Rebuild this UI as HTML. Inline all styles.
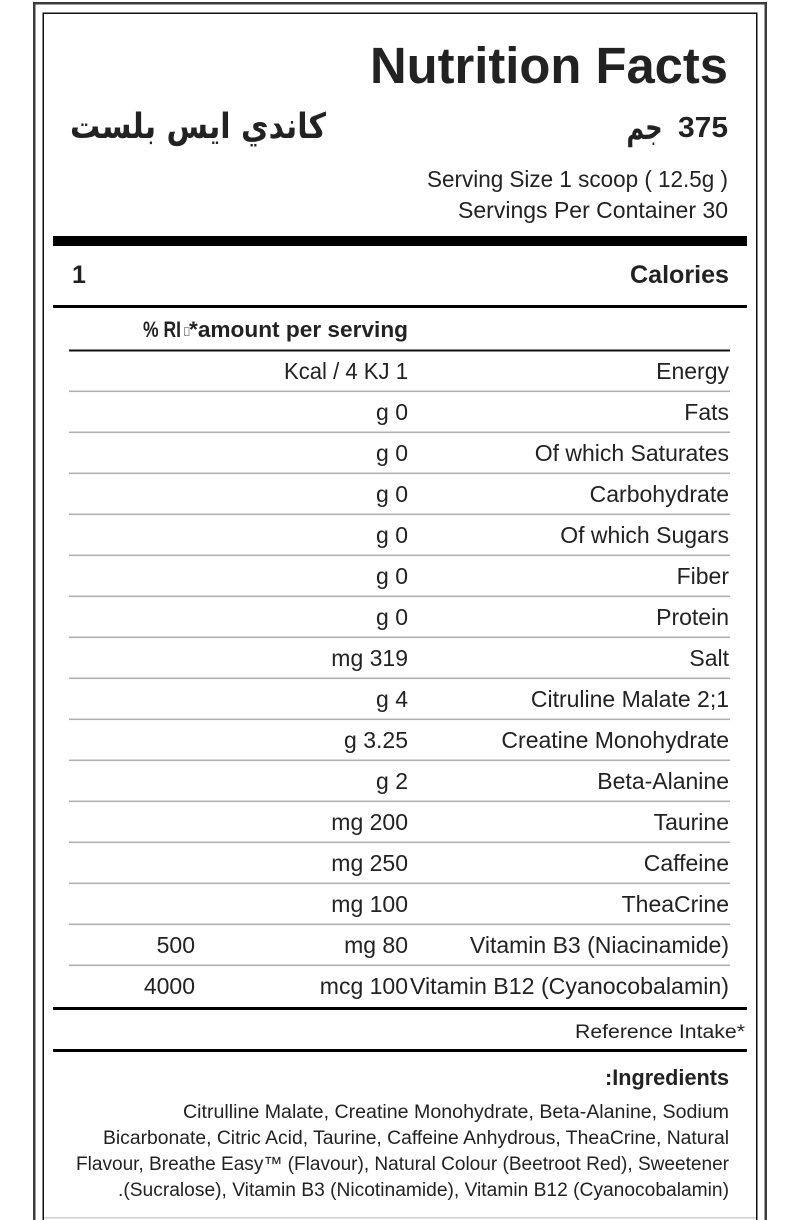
<!DOCTYPE html>
<html>
<head>
<meta charset="utf-8">
<style>
html,body{margin:0;padding:0;background:#fff;}
svg{display:block;}
text{font-family:"Liberation Sans",Arial,sans-serif;fill:#222;}
.ar{font-family:"DejaVu Sans","Liberation Sans",sans-serif;}
.b{font-weight:bold;}
.r{font-size:23px;}
</style>
</head>
<body>
<svg xmlns="http://www.w3.org/2000/svg" width="800" height="1220" viewBox="0 0 800 1220">
  <rect x="0" y="0" width="800" height="1220" fill="#fff"/>
  <!-- frames -->
  <rect x="34.25" y="3.25" width="731.5" height="1240" fill="none" stroke="#3c3c3c" stroke-width="2.5"/>
  <rect x="43.25" y="13.25" width="713.5" height="1240" fill="none" stroke="#111" stroke-width="1.5"/>
  <rect x="44" y="1217" width="712" height="1.5" fill="#cfcfcf"/>

  <!-- title -->
  <text x="728" y="83" text-anchor="end" class="b" font-size="51" textLength="358" lengthAdjust="spacingAndGlyphs">Nutrition Facts</text>

  <!-- arabic name -->
  <text x="198" y="138" text-anchor="middle" class="ar b" font-size="35" direction="rtl" textLength="256" lengthAdjust="spacingAndGlyphs">كاندي ايس بلست</text>

  <!-- 375 gm -->
  <text x="728" y="137" text-anchor="end" class="b" font-size="29" textLength="50" lengthAdjust="spacingAndGlyphs">375</text>
  <text x="644.5" y="139" text-anchor="middle" class="ar b" font-size="34" direction="rtl" textLength="36" lengthAdjust="spacingAndGlyphs">جم</text>

  <!-- serving -->
  <text x="728" y="187" text-anchor="end" font-size="23" fill="#2a2a2a" textLength="301" lengthAdjust="spacingAndGlyphs">Serving Size 1 scoop ( 12.5g )</text>
  <text x="728" y="218" text-anchor="end" font-size="23" fill="#2a2a2a" textLength="270" lengthAdjust="spacingAndGlyphs">Servings Per Container 30</text>

  <!-- thick bar -->
  <rect x="53" y="236" width="694" height="10" fill="#000"/>

  <!-- calories -->
  <text x="72" y="283" class="b" font-size="25">1</text>
  <text x="729" y="283" text-anchor="end" class="b" font-size="25" textLength="99" lengthAdjust="spacingAndGlyphs">Calories</text>

  <rect x="53" y="305" width="694" height="3" fill="#000"/>

  <!-- header -->
  <text x="143" y="337" class="b" font-size="22" textLength="38" lengthAdjust="spacingAndGlyphs">% RI</text>
  <rect x="184.5" y="327.5" width="4.5" height="8" fill="none" stroke="#999" stroke-width="1"/>
  <text x="408" y="337" text-anchor="end" class="b" font-size="22" textLength="219" lengthAdjust="spacingAndGlyphs">*amount per serving</text>

  <rect x="69" y="349.5" width="661" height="2" fill="#111"/>

  <!-- separators -->
  <g fill="#b0b0b0">
    <rect x="69" y="390.5" width="661" height="1.6"/>
    <rect x="69" y="431.5" width="661" height="1.6"/>
    <rect x="69" y="472.5" width="661" height="1.6"/>
    <rect x="69" y="513.5" width="661" height="1.6"/>
    <rect x="69" y="554.5" width="661" height="1.6"/>
    <rect x="69" y="595.5" width="661" height="1.6"/>
    <rect x="69" y="636.5" width="661" height="1.6"/>
    <rect x="69" y="677.5" width="661" height="1.6"/>
    <rect x="69" y="718.5" width="661" height="1.6"/>
    <rect x="69" y="759.5" width="661" height="1.6"/>
    <rect x="69" y="800.5" width="661" height="1.6"/>
    <rect x="69" y="841.5" width="661" height="1.6"/>
    <rect x="69" y="882.5" width="661" height="1.6"/>
    <rect x="69" y="923.5" width="661" height="1.6"/>
    <rect x="69" y="964.5" width="661" height="1.6"/>
  </g>

  <!-- rows: labels -->
  <g class="r" text-anchor="end">
    <text x="729" y="379">Energy</text>
    <text x="729" y="420">Fats</text>
    <text x="729" y="461">Of which Saturates</text>
    <text x="729" y="502">Carbohydrate</text>
    <text x="729" y="543">Of which Sugars</text>
    <text x="729" y="584">Fiber</text>
    <text x="729" y="625">Protein</text>
    <text x="729" y="666">Salt</text>
    <text x="729" y="707">Citruline Malate 2;1</text>
    <text x="729" y="748">Creatine Monohydrate</text>
    <text x="729" y="789">Beta-Alanine</text>
    <text x="729" y="830">Taurine</text>
    <text x="729" y="871">Caffeine</text>
    <text x="729" y="912">TheaCrine</text>
    <text x="729" y="953">Vitamin B3 (Niacinamide)</text>
    <text x="729" y="994" textLength="319" lengthAdjust="spacingAndGlyphs">Vitamin B12 (Cyanocobalamin)</text>
  </g>

  <!-- rows: values -->
  <g class="r" text-anchor="end">
    <text x="408" y="379" textLength="124" lengthAdjust="spacingAndGlyphs">Kcal / 4 KJ 1</text>
    <text x="408" y="420">g 0</text>
    <text x="408" y="461">g 0</text>
    <text x="408" y="502">g 0</text>
    <text x="408" y="543">g 0</text>
    <text x="408" y="584">g 0</text>
    <text x="408" y="625">g 0</text>
    <text x="408" y="666">mg 319</text>
    <text x="408" y="707">g 4</text>
    <text x="408" y="748">g 3.25</text>
    <text x="408" y="789">g 2</text>
    <text x="408" y="830">mg 200</text>
    <text x="408" y="871">mg 250</text>
    <text x="408" y="912">mg 100</text>
    <text x="408" y="953">mg 80</text>
    <text x="408" y="994">mcg 100</text>
  </g>

  <!-- RI -->
  <g class="r" text-anchor="end">
    <text x="195" y="953">500</text>
    <text x="195" y="994">4000</text>
  </g>

  <rect x="53" y="1007" width="694" height="3" fill="#000"/>

  <text x="745" y="1038" text-anchor="end" font-size="19" fill="#2a2a2a" textLength="170" lengthAdjust="spacingAndGlyphs">Reference Intake*</text>

  <rect x="53" y="1049" width="694" height="3" fill="#000"/>

  <!-- ingredients -->
  <text x="729" y="1085" text-anchor="end" class="b" font-size="22" textLength="124" lengthAdjust="spacingAndGlyphs">:Ingredients</text>

  <g text-anchor="end" font-size="19" fill="#2a2a2a">
    <text x="729" y="1118" textLength="546" lengthAdjust="spacingAndGlyphs" fill="#2a2a2a">Citrulline Malate, Creatine Monohydrate, Beta-Alanine, Sodium</text>
    <text x="729" y="1144" textLength="626" lengthAdjust="spacingAndGlyphs" fill="#2a2a2a">Bicarbonate, Citric Acid, Taurine, Caffeine Anhydrous, TheaCrine, Natural</text>
    <text x="729" y="1170" textLength="653" lengthAdjust="spacingAndGlyphs" fill="#2a2a2a">Flavour, Breathe Easy™ (Flavour), Natural Colour (Beetroot Red), Sweetener</text>
    <text x="729" y="1196" textLength="611" lengthAdjust="spacingAndGlyphs" fill="#2a2a2a">.(Sucralose), Vitamin B3 (Nicotinamide), Vitamin B12 (Cyanocobalamin)</text>
  </g>
</svg>
</body>
</html>
